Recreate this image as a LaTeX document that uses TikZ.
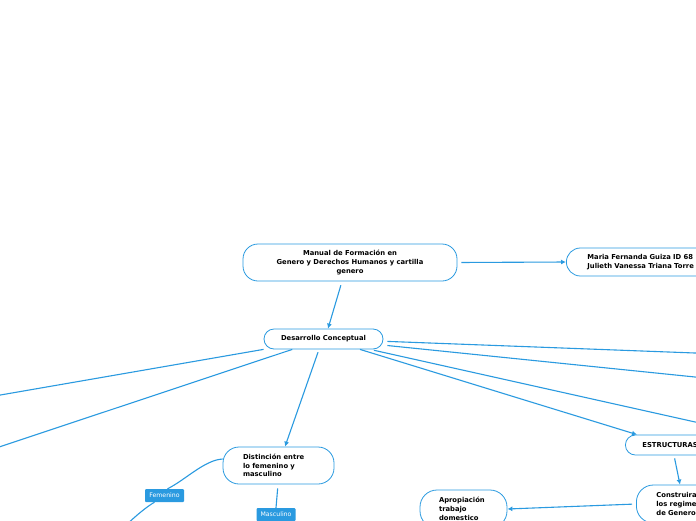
\documentclass[tikz,border=0pt]{standalone}
\usepackage{fontspec}
\setmainfont{DejaVu Sans}
\usepackage{tikz}
\usetikzlibrary{arrows.meta,positioning,calc}
\definecolor{mmblue}{HTML}{2A9AE0}
\tikzset{
  topic/.style={rounded corners=#1, draw=mmblue, fill=white, line width=0.8pt,
                align=center, inner sep=0pt, font=\fontsize{6.8}{8.7}\selectfont\bfseries},
  topic/.default=12pt,
  tag/.style={rounded corners=1pt, fill=mmblue, text=white, inner sep=0pt,
              minimum width=39pt, minimum height=13pt, font=\fontsize{6.2}{7}\selectfont},
  link/.style={-{Latex[length=5pt,width=5pt]}, line width=1.1pt, draw=mmblue},
  twig/.style={line width=1.1pt, draw=mmblue},
}
\begin{document}
\begin{tikzpicture}[x=1pt, y=-1pt,
        lefttext/.style={align=left, inner xsep=#1},
        lefttext/.default=20pt]
  \useasboundingbox (0,0) rectangle (696,520);
  \clip (0,0) rectangle (696,520);
  \fill[white] (0,0) rectangle (696,520);
  % central topics
  \node[topic=15pt, minimum width=214pt, minimum height=37pt] (manual) at (350,262.5)
    {Manual de Formación en\\Genero y Derechos Humanos y cartilla\\genero};
  \node[topic=14pt, lefttext=21pt, text width=198pt, minimum height=28pt, anchor=west] (autores)
    at (566,262) {Maria Fernanda Guiza ID 68\\Julieth Vanessa Triana Torre};
  \node[topic=10pt, minimum width=119pt, minimum height=20pt] (desarrollo) at (323.5,339)
    {Desarrollo Conceptual};
  % subtopics
  \node[topic=16pt, lefttext, text width=71pt, minimum height=37pt] (distincion) at (278.5,465.5)
    {Distinción entre\\lo femenino y\\masculino};
  \node[topic=10pt, lefttext=17pt, text width=106pt, minimum height=20pt, anchor=west] (estructuras)
    at (625,445) {ESTRUCTURAS};
  \node[topic=17pt, lefttext, text width=100pt, minimum height=38pt, anchor=west] (construira)
    at (636,504) {Construira\\los regime\\de Genero};
  \node[topic=17pt, lefttext=19pt, text width=49pt, minimum height=38pt] (apropiacion) at (463.5,509)
    {Apropiación\\trabajo\\domestico};
  % relation labels
  \node[tag] (femenino) at (164.5,495.5) {Femenino};
  \node[tag] (masculino) at (276,514.5) {Masculino};
  % branches leaving the view
  \coordinate (izq1) at (-40,402);
  \coordinate (izq2) at (-40,460);
  \coordinate (der1) at (740,354.7);
  \coordinate (der2) at (740,381.6);
  \coordinate (der3) at (740,432);
  \coordinate (fembajo) at (95,565);
  % connectors
  \draw[link, shorten <=4pt] (manual.east) -- (autores.west);
  \draw[link, shorten <=4pt] ([xshift=-8pt]manual.south) -- ([xshift=4.5pt]desarrollo.north);
  \draw[link] (desarrollo) -- (izq1);
  \draw[link] (desarrollo) -- (izq2);
  \draw[link, shorten <=3pt] ([xshift=-4.5pt]desarrollo.south) -- ([xshift=6.5pt]distincion.north);
  \draw[link] ([xshift=36.5pt]desarrollo.south) -- ([xshift=12pt]estructuras.north west);
  \draw[link, shorten <=4pt] (desarrollo) -- (der1);
  \draw[link, shorten <=4pt] (desarrollo) -- (der2);
  \draw[link, shorten <=4pt] (desarrollo) -- (der3);
  \draw[link, shorten <=3pt] ([xshift=49pt]estructuras.south west) -- ([xshift=44pt]construira.north west);
  \draw[link, shorten <=4pt] (construira.west) -- (apropiacion.east);
  % relation lines
  \draw[twig] ([yshift=6.5pt]distincion.west) .. controls +(-18,1) and +(18,-9) .. ([xshift=3pt]femenino.north);
  \draw[twig] ([xshift=-10pt]femenino.south) .. controls +(-14,8) and +(12,-25) .. (fembajo);
  \draw[twig, shorten <=4pt] ([xshift=-0.5pt]distincion.south) -- (masculino.north);
\end{tikzpicture}
\end{document}
